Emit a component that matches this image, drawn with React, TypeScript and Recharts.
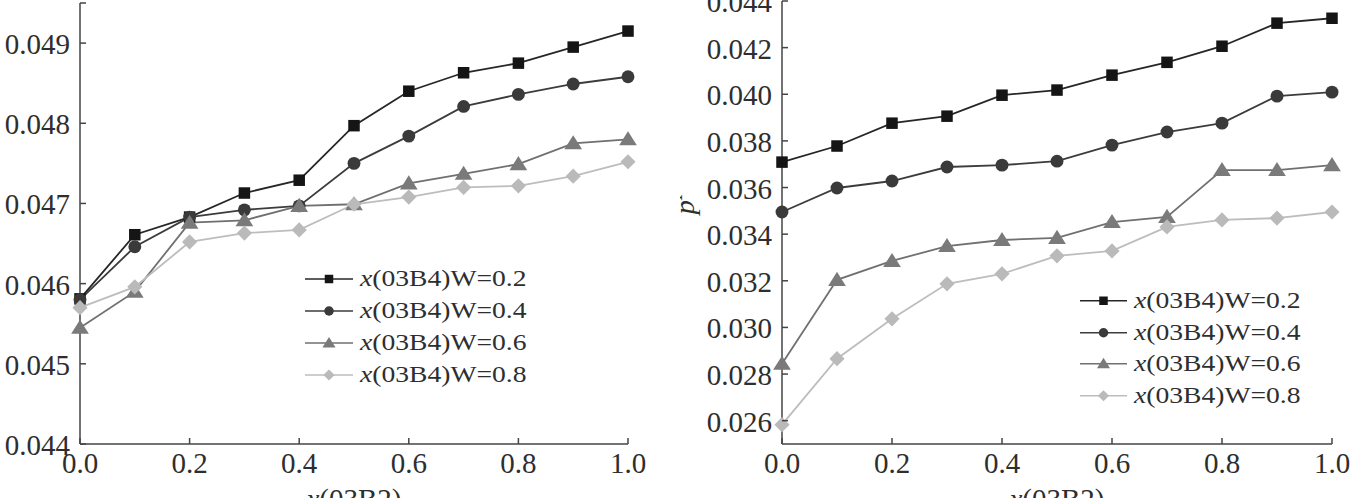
import React from 'react';
import { LineChart, Line, XAxis, YAxis, Legend } from 'recharts';

const xValues = [0, 0.1, 0.2, 0.3, 0.4, 0.5, 0.6, 0.7, 0.8, 0.9, 1.0];
const seriesNames = ['x(03B4)W=0.2', 'x(03B4)W=0.4', 'x(03B4)W=0.6', 'x(03B4)W=0.8'];

const leftW02 = [0.04581, 0.04661, 0.04683, 0.04713, 0.04729, 0.04797, 0.0484, 0.04863, 0.04875, 0.04895, 0.04915];
const leftW04 = [0.0458, 0.04646, 0.04683, 0.04692, 0.04697, 0.0475, 0.04784, 0.04821, 0.04836, 0.04849, 0.04858];
const leftW06 = [0.04545, 0.0459, 0.04676, 0.04679, 0.04697, 0.04699, 0.04725, 0.04737, 0.04749, 0.04775, 0.0478];
const leftW08 = [0.0457, 0.04596, 0.04652, 0.04663, 0.04667, 0.04699, 0.04708, 0.0472, 0.04722, 0.04734, 0.04752];

const rightW02 = [0.03709, 0.03778, 0.03876, 0.03906, 0.03996, 0.04018, 0.04082, 0.04137, 0.04206, 0.04305, 0.04326];
const rightW04 = [0.03495, 0.03598, 0.03628, 0.03688, 0.03696, 0.03713, 0.03782, 0.03838, 0.03876, 0.03992, 0.04009];
const rightW06 = [0.02844, 0.03204, 0.03285, 0.03349, 0.03375, 0.03384, 0.03452, 0.03474, 0.03675, 0.03675, 0.03696];
const rightW08 = [0.02583, 0.02866, 0.03037, 0.03187, 0.0323, 0.03307, 0.03328, 0.03431, 0.03461, 0.03469, 0.03495];

const xTicks = [0, 0.2, 0.4, 0.6, 0.8, 1.0];
const leftYTicks = [0.044, 0.045, 0.046, 0.047, 0.048, 0.049, 0.0495];
const leftYDomain = [0.044, 0.0495];
const rightYTicks = [0.026, 0.028, 0.03, 0.032, 0.034, 0.036, 0.038, 0.04, 0.042, 0.044];
const rightYDomain = [0.025, 0.044];
const xAxisTitle = 'x(03B2)';
const rightYAxisTitle = 'p';
const rightYAxisSup = 'I';

const FONT = 'Liberation Serif, Tinos, Times New Roman, Times, serif';
const AXIS = '#454545';
const TEXT = '#2e2e2e';

const SERIES = [
  { key: 'w02', shape: 'square', fill: '#151515', stroke: '#262626' },
  { key: 'w04', shape: 'circle', fill: '#3a3a3a', stroke: '#3c3c3c' },
  { key: 'w06', shape: 'triangle', fill: '#7a7a7a', stroke: '#707070' },
  { key: 'w08', shape: 'diamond', fill: '#bababa', stroke: '#bdbdbd' },
];

const buildRows = (a: number[], b: number[], c: number[], d: number[]) =>
  xValues.map((x, i) => ({ x, w02: a[i], w04: b[i], w06: c[i], w08: d[i] }));

const leftData = buildRows(leftW02, leftW04, leftW06, leftW08);
const rightData = buildRows(rightW02, rightW04, rightW06, rightW08);

function Marker({ shape, cx, cy, s, fill }: { shape: string; cx: number; cy: number; s: number; fill: string }) {
  if (shape === 'square') {
    const h = s * 0.5;
    return <rect x={cx - h} y={cy - h} width={s} height={s} fill={fill} />;
  }
  if (shape === 'circle') {
    return <circle cx={cx} cy={cy} r={s * 0.56} fill={fill} />;
  }
  if (shape === 'triangle') {
    const h = s * 0.7;
    return (
      <polygon
        points={`${cx},${cy - h} ${cx - h * 1.1},${cy + h * 0.75} ${cx + h * 1.1},${cy + h * 0.75}`}
        fill={fill}
      />
    );
  }
  const h = s * 0.66;
  return <polygon points={`${cx},${cy - h} ${cx + h},${cy} ${cx},${cy + h} ${cx - h},${cy}`} fill={fill} />;
}

const makeDot = (shape: string, fill: string, key: string) => (p: any) => {
  if (p.cx == null || p.cy == null) return <g key={`${key}-${p.index}`} />;
  return (
    <g key={`${key}-${p.index}`}>
      <Marker shape={shape} cx={p.cx} cy={p.cy} s={11.5} fill={fill} />
    </g>
  );
};

const YTick = (props: any) => {
  const { x, y, payload, hideValue } = props;
  const v = payload.value as number;
  const show = !(hideValue != null && Math.abs(v - hideValue) < 1e-9);
  return (
    <g>
      <line x1={x} x2={x + 6} y1={y} y2={y} stroke={AXIS} strokeWidth={1.5} />
      {show && (
        <text x={x - 10} y={y + 11} textAnchor="end" fontFamily={FONT} fontSize={29} fill={TEXT}>
          {v.toFixed(3)}
        </text>
      )}
    </g>
  );
};

const XTick = (props: any) => {
  const { x, y, payload } = props;
  const v = payload.value as number;
  return (
    <g>
      <line x1={x} x2={x} y1={y} y2={y - 6} stroke={AXIS} strokeWidth={1.5} />
      <text x={x} y={y + 29} textAnchor="middle" fontFamily={FONT} fontSize={29} fill={TEXT}>
        {v.toFixed(1)}
      </text>
    </g>
  );
};

const xLabel = (props: any) => {
  const vb = props.viewBox || {};
  return (
    <text x={vb.x + vb.width / 2} y={vb.y + 65} textAnchor="middle" fontFamily={FONT} fontSize={29} fill={TEXT}>
      <tspan fontStyle="italic">{xAxisTitle.slice(0, 1)}</tspan>
      {xAxisTitle.slice(1)}
    </text>
  );
};

const yLabelRight = (props: any) => {
  const vb = props.viewBox || {};
  const x = vb.x + 14;
  const y = 204;
  return (
    <text x={x} y={y} transform={`rotate(-90, ${x}, ${y})`} textAnchor="middle" fontFamily={FONT} fontSize={28} fill={TEXT}>
      <tspan fontStyle="italic">{rightYAxisTitle}</tspan>
      <tspan fontSize={20} fontStyle="italic" dy={-12}>{rightYAxisSup}</tspan>
    </text>
  );
};

const renderLegend = (lineLen: number, rowH: number) => () => (
  <div style={{ fontFamily: FONT, fontSize: 23, color: TEXT }}>
    {SERIES.map((s, i) => (
      <div key={s.key} style={{ display: 'flex', alignItems: 'center', height: rowH }}>
        <svg width={lineLen} height={rowH} style={{ display: 'block', flex: 'none' }}>
          <line x1={0} x2={lineLen} y1={rowH / 2} y2={rowH / 2} stroke={s.stroke} strokeWidth={1.7} />
          <Marker shape={s.shape} cx={lineLen / 2} cy={rowH / 2} s={8.5} fill={s.fill} />
        </svg>
        <span
          style={{
            marginLeft: 7,
            display: 'inline-block',
            whiteSpace: 'nowrap',
            transform: 'scaleX(1.2)',
            transformOrigin: 'left center',
            lineHeight: `${rowH}px`,
          }}
        >
          <i>{seriesNames[i].slice(0, 1)}</i>
          {seriesNames[i].slice(1)}
        </span>
      </div>
    ))}
  </div>
);

function Panel(props: {
  data: any[];
  width: number;
  margin: any;
  yWidth: number;
  yDomain: number[];
  yTicks: number[];
  hideValue?: number;
  legendLeft: number;
  legendTop: number;
  legendLine: number;
  legendRow: number;
  yLabel?: any;
}) {
  return (
    <LineChart width={props.width} height={498} data={props.data} margin={props.margin} style={{ overflow: 'visible' }}>
      <XAxis
        dataKey="x"
        type="number"
        domain={[0, 1]}
        ticks={xTicks}
        interval={0}
        height={54}
        tickSize={0}
        tickMargin={0}
        tickLine={false}
        axisLine={{ stroke: AXIS, strokeWidth: 1.5 }}
        tick={<XTick />}
        label={xLabel}
      />
      <YAxis
        type="number"
        domain={props.yDomain}
        ticks={props.yTicks}
        interval={0}
        width={props.yWidth}
        allowDataOverflow
        tickSize={0}
        tickMargin={0}
        tickLine={false}
        axisLine={{ stroke: AXIS, strokeWidth: 1.5 }}
        tick={<YTick hideValue={props.hideValue} />}
        label={props.yLabel}
      />
      <Legend
        layout="vertical"
        align="center"
        verticalAlign="middle"
        content={renderLegend(props.legendLine, props.legendRow)}
        wrapperStyle={{ left: props.legendLeft, top: props.legendTop, width: 300 }}
      />
      {SERIES.map((s, i) => (
        <Line
          key={s.key}
          dataKey={s.key}
          name={seriesNames[i]}
          type="linear"
          stroke={s.stroke}
          strokeWidth={1.8}
          dot={makeDot(s.shape, s.fill, s.key)}
          activeDot={false}
          isAnimationActive={false}
        />
      ))}
    </LineChart>
  );
}

export default function App() {
  return (
    <div style={{ position: 'absolute', left: 0, top: 0, width: 1360, height: 498, background: '#fff', overflow: 'hidden' }}>
      <div style={{ position: 'absolute', left: 0, top: 0 }}>
        <Panel
          data={leftData}
          width={680}
          margin={{ top: 3, right: 52, left: 0, bottom: 0 }}
          yWidth={80}
          yDomain={leftYDomain}
          yTicks={leftYTicks}
          hideValue={0.0495}
          legendLeft={305}
          legendTop={263}
          legendLine={48}
          legendRow={32}
        />
      </div>
      <div style={{ position: 'absolute', left: 680, top: 0 }}>
        <Panel
          data={rightData}
          width={680}
          margin={{ top: 1, right: 28, left: 0, bottom: 0 }}
          yWidth={102}
          yDomain={rightYDomain}
          yTicks={rightYTicks}
          legendLeft={400}
          legendTop={285}
          legendLine={47}
          legendRow={31.5}
          yLabel={yLabelRight}
        />
      </div>
    </div>
  );
}
